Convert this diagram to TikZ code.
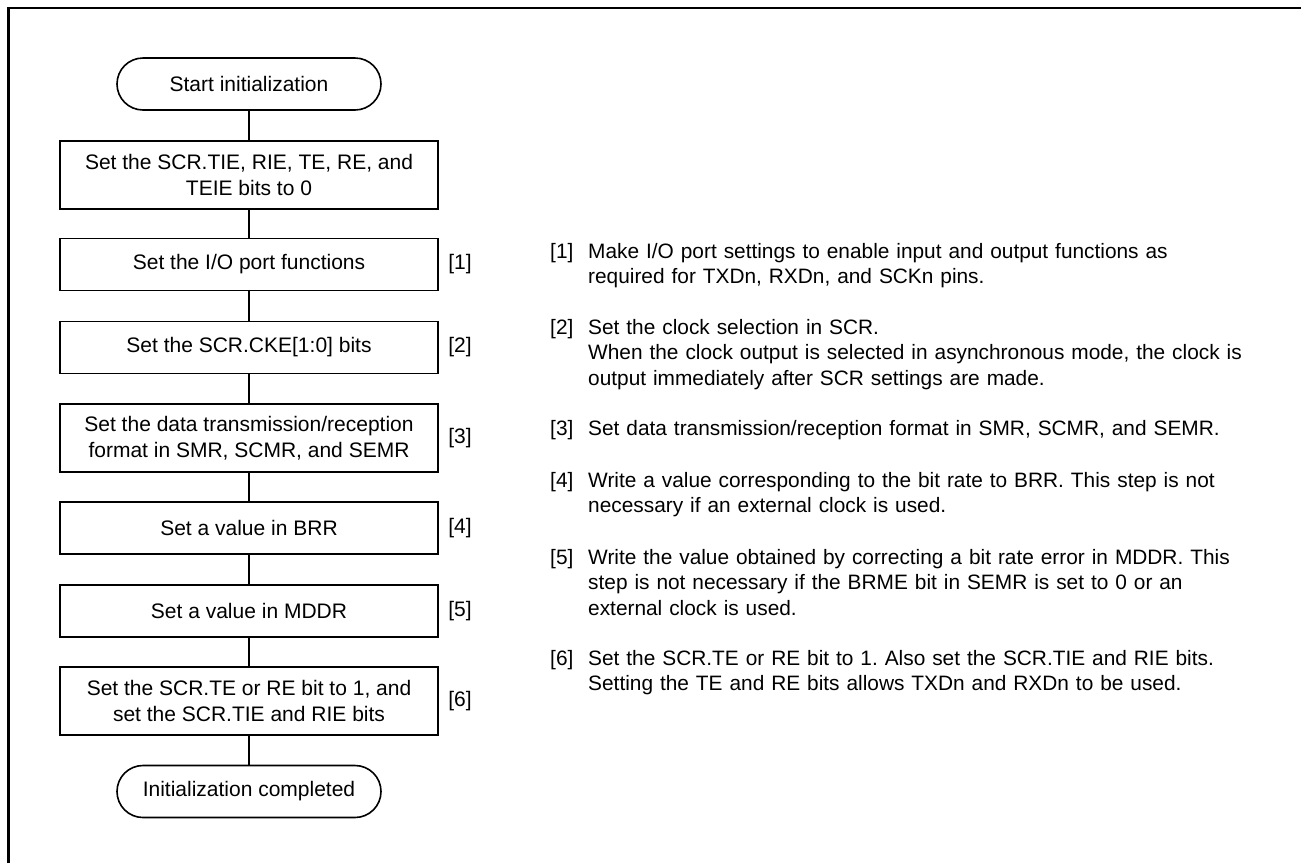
\documentclass[tikz,border=0pt]{standalone}
\usepackage{fontspec}
\setmainfont{Liberation Sans}
\frenchspacing
\begin{document}
\begin{tikzpicture}[x=1pt,y=-1pt,
  every node/.style={font=\fontsize{21}{26}\selectfont, inner sep=0pt, text=black},
  procbox/.style={draw, line width=1.6pt, minimum width=378pt, align=center},
  termbox/.style={draw, line width=1.6pt, rounded corners=26pt, minimum width=264pt, minimum height=52pt},
  link/.style={line width=1.2pt},
  notetag/.style={anchor=base west, font=\fontsize{20.85}{25.5}\selectfont},
  note/.style={anchor=base west, text width=700pt, align=left, font=\fontsize{20.85}{25.5}\selectfont}]
\useasboundingbox (0,0) rectangle (1301,863);
\draw[line width=2.2pt] (8.5,863) -- (8.5,8) -- (1301,8);

\node[termbox] (start) at (249,84) {Start initialization};
\node[procbox, minimum height=68pt] (clr) at (249,175) {Set the SCR.TIE, RIE, TE, RE, and\\TEIE bits to 0};
\node[procbox, minimum height=52pt] (io) at (249,264.5) {Set the I/O port functions};
\node[procbox, minimum height=52pt] (cke) at (249,347.5) {Set the SCR.CKE[1:0] bits};
\node[procbox, minimum height=68pt] (fmt) at (249,438) {Set the data transmission/reception\\format in SMR, SCMR, and SEMR};
\node[procbox, minimum height=52pt] (brr) at (249,528) {Set a value in BRR};
\node[procbox, minimum height=52pt] (mddr) at (249,611) {Set a value in MDDR};
\node[procbox, minimum height=68pt] (en) at (249,701) {Set the SCR.TE or RE bit to 1, and\\set the SCR.TIE and RIE bits};
\node[termbox] (end) at (249,791.5) {Initialization completed};

\draw[link] (start) -- (clr);
\draw[link] (clr) -- (io);
\draw[link] (io) -- (cke);
\draw[link] (cke) -- (fmt);
\draw[link] (fmt) -- (brr);
\draw[link] (brr) -- (mddr);
\draw[link] (mddr) -- (en);
\draw[link] (en) -- (end);

\node (t1) at (460,264.5) {[1]};
\node (t2) at (460,347.5) {[2]};
\node (t3) at (460,438) {[3]};
\node (t4) at (460,528) {[4]};
\node (t5) at (460,611) {[5]};
\node (t6) at (460,701) {[6]};

\node[notetag] (n1tag) at (550,258) {[1]};
\node[note] (n1) at (588,258) {Make I/O port settings to enable input and output functions as\\required for TXDn, RXDn, and SCKn pins.};
\node[notetag] (n2tag) at (550,334) {[2]};
\node[note] (n2) at (588,334) {Set the clock selection in SCR.\\When the clock output is selected in asynchronous mode, the clock is\\output immediately after SCR settings are made.};
\node[notetag] (n3tag) at (550,435) {[3]};
\node[note] (n3) at (588,435) {Set data transmission/reception format in SMR, SCMR, and SEMR.};
\node[notetag] (n4tag) at (550,487) {[4]};
\node[note] (n4) at (588,487) {Write a value corresponding to the bit rate to BRR. This step is not\\necessary if an external clock is used.};
\node[notetag] (n5tag) at (550,564) {[5]};
\node[note] (n5) at (588,564) {Write the value obtained by correcting a bit rate error in MDDR. This\\step is not necessary if the BRME bit in SEMR is set to 0 or an\\external clock is used.};
\node[notetag] (n6tag) at (550,665) {[6]};
\node[note] (n6) at (588,665) {Set the SCR.TE or RE bit to 1. Also set the SCR.TIE and RIE bits.\\Setting the TE and RE bits allows TXDn and RXDn to be used.};
\end{tikzpicture}
\end{document}
